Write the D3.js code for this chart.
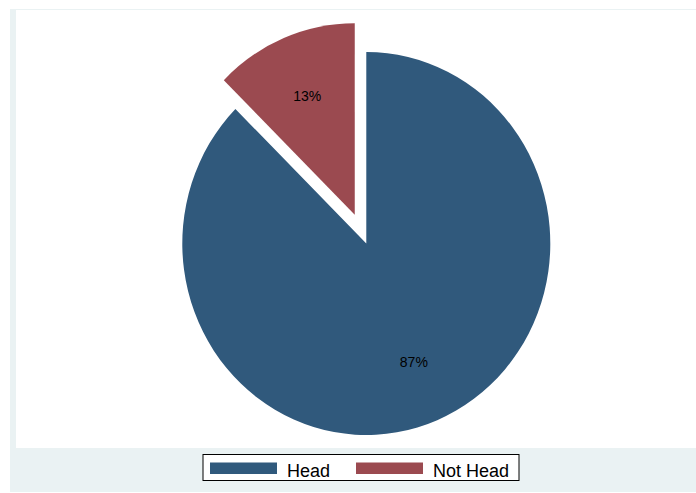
<!DOCTYPE html>
<html>
<head>
<title>Head share</title>
<style>
body { margin: 0; background: #ffffff; }
svg { display: block; font-family: "Liberation Sans", Arial, sans-serif; }
</style>
<script src="https://cdnjs.cloudflare.com/ajax/libs/d3/7.8.5/d3.min.js"></script>
</head>
<body>
<svg id="chart" width="696" height="493"></svg>
<script>
// values
const categories = ["Head", "Not Head"];
const shares = [87.4, 12.6];
const sliceColors = ["#30597c", "#9b4a50"];
const explodeFlags = [false, true];

const svg = d3.select("#chart");
const W = +svg.attr("width");
const H = +svg.attr("height");

// stata-ish background
svg.append("rect").attr("x", 10).attr("y", 9).attr("width", W - 10).attr("height", 483).attr("fill", "#eaf2f3");
svg.append("rect").attr("x", 16).attr("y", 10).attr("width", W - 16).attr("height", 438).attr("fill", "#ffffff");

const CX = 366.3, CY = 243.5;
const RX = 184, RY = 191.5;
const EXPLODE = 30;
const ky = RY / RX;

const color = d3.scaleOrdinal().domain(categories).range(sliceColors);

const rows = categories.map((c, i) => ({ cat: c, value: shares[i], explode: explodeFlags[i] }));
const pie = d3.pie().sort(null).value(d => d.value);
const arcs = pie(rows);
const total = d3.sum(shares);

const arc = d3.arc().innerRadius(0).outerRadius(RX);
const labelArc = d3.arc().innerRadius(RX * 0.67).outerRadius(RX * 0.67);

function offset(d) {
  if (!d.data.explode) return [0, 0];
  const mid = (d.startAngle + d.endAngle) / 2;
  return [Math.sin(mid) * EXPLODE, -Math.cos(mid) * EXPLODE];
}

const pieG = svg.append("g").attr("transform", `translate(${CX},${CY})`);

pieG.selectAll("path")
  .data(arcs)
  .join("path")
  .attr("transform", d => {
    const o = offset(d);
    return `scale(1,${ky}) translate(${o[0]},${o[1]})`;
  })
  .attr("d", arc)
  .attr("fill", d => color(d.data.cat));

pieG.selectAll("text")
  .data(arcs)
  .join("text")
  .attr("x", d => labelArc.centroid(d)[0] + offset(d)[0])
  .attr("y", d => (labelArc.centroid(d)[1] + offset(d)[1]) * ky)
  .attr("text-anchor", "middle")
  .attr("dominant-baseline", "central")
  .attr("font-size", "14px")
  .attr("fill", "#000")
  .text(d => Math.round(d.data.value / total * 100) + "%");

// legend
const legend = svg.append("g").attr("transform", "translate(203,454.5)");
legend.append("rect").attr("width", 316).attr("height", 26)
  .attr("fill", "#fff").attr("stroke", "#000").attr("stroke-width", 1);

const legX = d3.scalePoint().domain(categories).range([7, 153]);

const items = legend.selectAll("g.item")
  .data(categories)
  .join("g")
  .attr("class", "item")
  .attr("transform", d => `translate(${legX(d)},8)`);

items.append("rect").attr("width", 67).attr("height", 11.5).attr("fill", d => color(d));
items.append("text").attr("x", 77).attr("y", 14.5)
  .attr("font-size", "18px").attr("fill", "#000")
  .text(d => d);
</script>
</body>
</html>
